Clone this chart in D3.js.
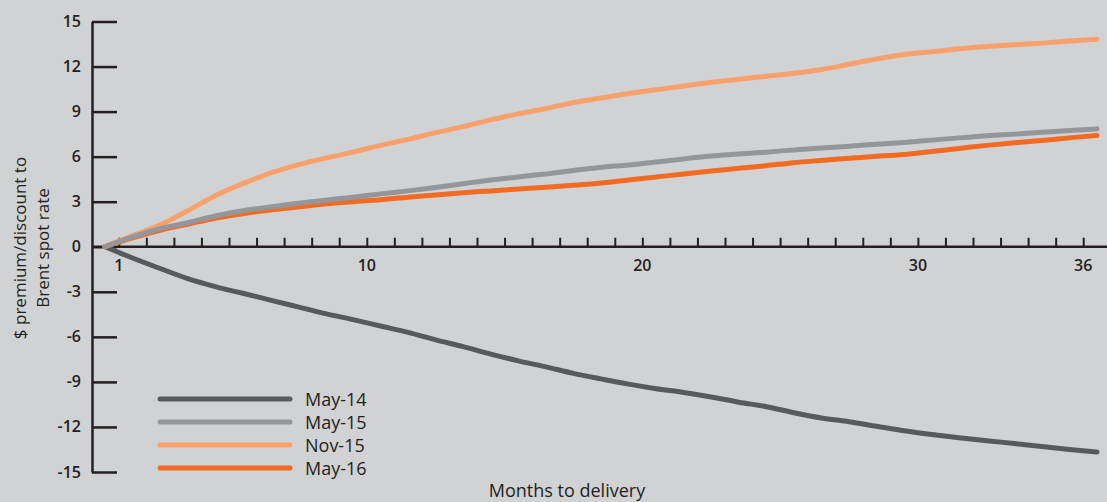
<!DOCTYPE html>
<html>
<head>
<meta charset="utf-8">
<script src="https://cdn.jsdelivr.net/npm/d3@7"></script>
<style>
  body { margin: 0; background: #d1d2d4; }
  svg { display: block; font-family: "Open Sans", "Noto Sans", sans-serif; }
</style>
</head>
<body>
<svg id="chart" width="1107" height="502"></svg>
<script>
// month index 0..36 (0 = spot)
const months = d3.range(0, 37);
const seriesNames = ["May-14", "May-15", "Nov-15", "May-16"];
const seriesColors = ["#58595b", "#959699", "#f9a16d", "#f26b23"];

const may14 = [0, -0.75, -1.45, -2.12, -2.65, -3.1, -3.55, -4.0, -4.45, -4.85, -5.28, -5.7, -6.2,
  -6.65, -7.15, -7.6, -8.0, -8.43, -8.8, -9.15, -9.45, -9.7, -10.0, -10.35, -10.65, -11.05,
  -11.4, -11.65, -11.95, -12.25, -12.5, -12.72, -12.92, -13.1, -13.3, -13.5, -13.67];
const may15 = [0, 0.65, 1.2, 1.6, 2.05, 2.4, 2.65, 2.9, 3.1, 3.3, 3.52, 3.72, 3.95, 4.2, 4.45,
  4.65, 4.85, 5.08, 5.3, 5.45, 5.65, 5.85, 6.05, 6.17, 6.3, 6.45, 6.57, 6.7, 6.82, 6.95, 7.1,
  7.25, 7.39, 7.5, 7.62, 7.74, 7.85];
const nov15 = [0, 0.75, 1.45, 2.4, 3.4, 4.2, 4.9, 5.45, 5.9, 6.3, 6.75, 7.15, 7.6, 8.0, 8.45,
  8.85, 9.2, 9.6, 9.9, 10.2, 10.45, 10.7, 10.95, 11.15, 11.35, 11.55, 11.8, 12.15, 12.5, 12.8,
  12.98, 13.18, 13.33, 13.45, 13.56, 13.7, 13.82];
const may16 = [0, 0.6, 1.1, 1.5, 1.9, 2.2, 2.45, 2.65, 2.85, 3.0, 3.13, 3.3, 3.45, 3.6, 3.72,
  3.85, 3.97, 4.1, 4.25, 4.45, 4.65, 4.85, 5.05, 5.22, 5.4, 5.6, 5.75, 5.9, 6.02, 6.15, 6.35,
  6.55, 6.75, 6.92, 7.08, 7.25, 7.41];

const yTicks = [-15, -12, -9, -6, -3, 0, 3, 6, 9, 12, 15];
const xLabelled = [1, 10, 20, 30, 36];
const xTickMonths = d3.range(1, 37);

const svg = d3.select("#chart");
const axisColor = "#231f20";

const xScale = d3.scaleLinear().domain([0, 36]).range([105, 1097]);
const yScale = d3.scaleLinear().domain([-15, 15]).range([472, 21.5]);

// x axis: ticks sit half a month before each data point
const xAxis = d3.axisTop(xScale)
  .tickValues(xTickMonths.map((m) => m - 0.5))
  .tickSize(9)
  .tickSizeOuter(0)
  .tickFormat("");
const gx = svg.append("g")
  .attr("transform", `translate(0,${yScale(0)})`)
  .call(xAxis);
gx.select(".domain").remove();
gx.selectAll(".tick line").attr("stroke", axisColor).attr("stroke-width", 2);
svg.append("line")
  .attr("x1", 92).attr("x2", 1107)
  .attr("y1", yScale(0)).attr("y2", yScale(0))
  .attr("stroke", axisColor).attr("stroke-width", 2.5);

svg.append("g")
  .selectAll("text")
  .data(xLabelled)
  .enter()
  .append("text")
  .attr("x", (d) => xScale(d - 0.5))
  .attr("y", yScale(0) + 24)
  .attr("text-anchor", "middle")
  .attr("font-size", 16)
  .attr("font-weight", 600)
  .attr("fill", axisColor)
  .text((d) => d);

// y axis
const yAxis = d3.axisRight(yScale).tickValues(yTicks).tickSize(25).tickSizeOuter(0).tickFormat("");
const gy = svg.append("g").attr("transform", "translate(92,0)").call(yAxis);
gy.select(".domain").attr("stroke", axisColor).attr("stroke-width", 2.5);
gy.selectAll(".tick line").attr("stroke", axisColor).attr("stroke-width", 2.5);

svg.append("g")
  .selectAll("text")
  .data(yTicks)
  .enter()
  .append("text")
  .attr("x", 81)
  .attr("y", (d) => yScale(d) + 5.5)
  .attr("text-anchor", "end")
  .attr("font-size", 16)
  .attr("font-weight", 600)
  .attr("fill", axisColor)
  .text((d) => d);

// axis titles
const yTitle = svg.append("text")
  .attr("transform", "translate(0,248) rotate(-90)")
  .attr("text-anchor", "middle")
  .attr("font-size", 17)
  .attr("fill", axisColor);
yTitle.append("tspan").attr("x", 0).attr("y", 26).text("$ premium/discount to");
yTitle.append("tspan").attr("x", 0).attr("y", 49).text("Brent spot rate");

svg.append("text")
  .attr("x", 567)
  .attr("y", 497)
  .attr("text-anchor", "middle")
  .attr("font-size", 18)
  .attr("fill", axisColor)
  .text("Months to delivery");

// lines
const seriesValues = [may14, may15, nov15, may16];
const line = d3.line()
  .x((d, i) => xScale(months[i]))
  .y((d) => yScale(d))
  .curve(d3.curveMonotoneX);

const drawOrder = [0, 2, 3, 1];
svg.append("g")
  .selectAll("path")
  .data(drawOrder)
  .enter()
  .append("path")
  .attr("d", (k) => line(seriesValues[k]))
  .attr("fill", "none")
  .attr("stroke", (k) => seriesColors[k])
  .attr("stroke-width", 5)
  .attr("stroke-linecap", "round")
  .attr("stroke-linejoin", "round");

// legend
const legend = svg.append("g").attr("transform", "translate(160,399)");
const items = legend.selectAll("g")
  .data(seriesNames)
  .enter()
  .append("g")
  .attr("transform", (d, i) => `translate(0,${i * 23})`);
items.append("line")
  .attr("x1", 0).attr("x2", 130)
  .attr("stroke", (d, i) => seriesColors[i])
  .attr("stroke-width", 5)
  .attr("stroke-linecap", "round");
items.append("text")
  .attr("x", 145)
  .attr("y", 6.5)
  .attr("font-size", 18)
  .attr("fill", axisColor)
  .text((d) => d);
</script>
</body>
</html>
